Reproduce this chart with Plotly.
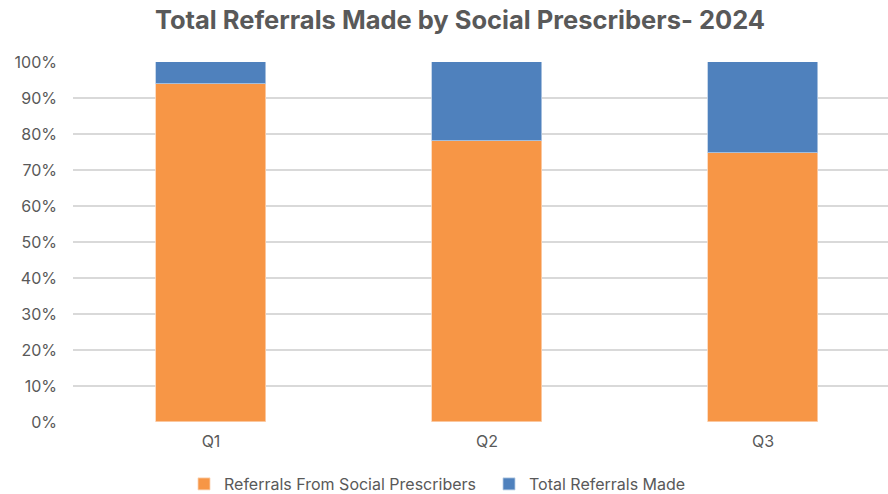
import plotly.graph_objects as go

quarters = ["Q1", "Q2", "Q3"]
referrals_from_sp = [94.0, 78.1, 74.6]
total_referrals = [6.0, 21.9, 25.4]
y_ticks = [0, 10, 20, 30, 40, 50, 60, 70, 80, 90, 100]
y_tick_labels = [f"{v}%" for v in y_ticks]

FONT = "Inter, Lato, sans-serif"
GREY = "#595959"

fig = go.Figure()
fig.add_trace(go.Bar(
    x=quarters, y=referrals_from_sp, name="Referrals From Social Prescribers",
    marker=dict(color="#F79646", line=dict(color="#FBD3B4", width=0.8)),
    width=0.4,
))
fig.add_trace(go.Bar(
    x=quarters, y=total_referrals, name="Total Referrals Made",
    marker=dict(color="#4F81BD", line=dict(color="#B9CDE5", width=0.8)),
    width=0.4,
))

fig.update_layout(
    barmode="stack",
    width=888, height=494,
    margin=dict(l=73, r=0, t=62, b=72),
    paper_bgcolor="white", plot_bgcolor="white",
    title=dict(
        text="<b>Total Referrals Made by Social Prescribers- 2024</b>",
        x=460 / 888, xanchor="center", xref="container",
        y=1 - 20 / 494, yanchor="middle", yref="container",
        font=dict(family=FONT, size=25.5, color=GREY),
    ),
    xaxis=dict(
        range=[-0.5, 2.453], showgrid=False, zeroline=False,
        tickfont=dict(family=FONT, size=16, color=GREY),
        ticks="", showline=False, ticklabelstandoff=8,
    ),
    yaxis=dict(
        range=[0, 100], tickvals=y_ticks, ticktext=y_tick_labels,
        showgrid=True, gridcolor="#D9D9D9", gridwidth=1.5,
        zeroline=False, showline=False, ticks="",
        tickfont=dict(family=FONT, size=16, color=GREY),
        ticklabelstandoff=15,
    ),
    legend=dict(
        orientation="h", xref="container", yref="container",
        x=184 / 888, xanchor="left", y=1 - 484 / 494, yanchor="middle",
        font=dict(family=FONT, size=16, color=GREY),
        itemwidth=30, traceorder="normal", entrywidthmode="pixels", entrywidth=260,
    ),
    bargap=0,
)
fig.write_html("out.html")
